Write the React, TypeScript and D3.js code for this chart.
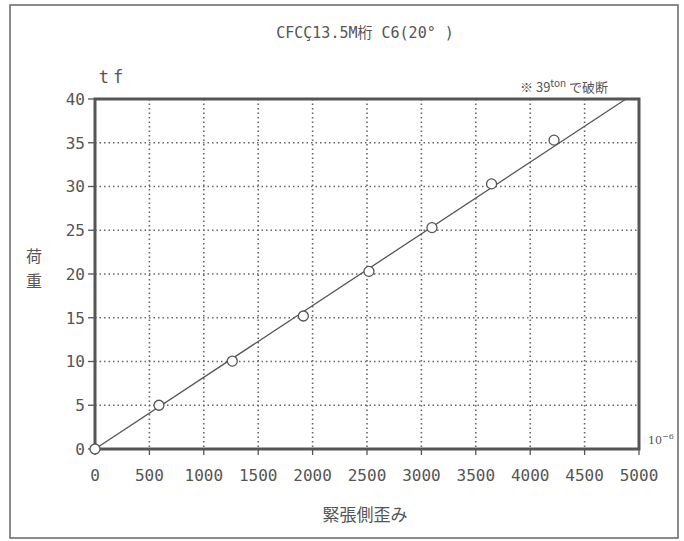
import * as d3 from 'd3';

// measured points (strain x10^-6, load tf)
const strain = [0, 588, 1262, 1915, 2518, 3097, 3645, 4219];
const load = [0, 5.0, 10.05, 15.2, 20.3, 25.3, 30.3, 35.3];

// fitted line end points
const fitStrain = [0, 4880];
const fitLoad = [0, 40];

const xTicks = [0, 500, 1000, 1500, 2000, 2500, 3000, 3500, 4000, 4500, 5000];
const yTicks = [0, 5, 10, 15, 20, 25, 30, 35, 40];

const ink = '#555';
const mono = '"DejaVu Sans Mono", "Liberation Mono", monospace';
const jp = '"Noto Sans CJK JP", sans-serif';

export default function App() {
  const width = 684;
  const height = 541;
  const left = 95;
  const right = 639;
  const top = 99;
  const bottom = 449;

  const x = d3.scaleLinear().domain([0, 5000]).range([left, right]);
  const y = d3.scaleLinear().domain([0, 40]).range([bottom, top]);

  const line = d3
    .line<number>()
    .x((d) => x(d))
    .y((_, i) => y(fitLoad[i]));

  return (
    <svg
      width={width}
      height={height}
      style={{ position: 'absolute', left: 0, top: 0, background: '#fff' }}
    >
      {/* outer frame */}
      <rect x={10} y={5} width={668} height={533} fill="none" stroke="#666" strokeWidth={1.5} />

      <text x={365} y={38} textAnchor="middle" fontFamily={mono} fontSize={15} fill={ink}>
        CFCÇ13.5M<tspan fontFamily={jp}>桁</tspan> C6(20° )
      </text>

      {/* grid */}
      {xTicks.slice(1, -1).map((t) => (
        <line key={'gx' + t} x1={x(t)} x2={x(t)} y1={top} y2={bottom} stroke="#666" strokeWidth={1.6} strokeDasharray="1.5 3" />
      ))}
      {yTicks.slice(1, -1).map((t) => (
        <line key={'gy' + t} x1={left} x2={right} y1={y(t)} y2={y(t)} stroke="#666" strokeWidth={1.6} strokeDasharray="1.5 3" />
      ))}

      {/* ticks */}
      {yTicks.map((t) => (
        <g key={'ty' + t}>
          <line x1={left - 7} x2={left} y1={y(t)} y2={y(t)} stroke={ink} strokeWidth={1.3} />
          <text x={left - 10} y={y(t)} dy="0.36em" textAnchor="end" fontFamily={mono} fontSize={16} fill={ink}>
            {t}
          </text>
        </g>
      ))}
      {xTicks.map((t) => (
        <g key={'tx' + t}>
          <line x1={x(t)} x2={x(t)} y1={bottom} y2={bottom + 6} stroke={ink} strokeWidth={1.3} />
          <text x={x(t)} y={481} textAnchor="middle" fontFamily={mono} fontSize={16} fill={ink}>
            {t}
          </text>
        </g>
      ))}

      {/* plot frame */}
      <rect x={left} y={top} width={right - left} height={bottom - top} fill="none" stroke={ink} strokeWidth={3} />

      {/* fit line */}
      <path d={line(fitStrain) ?? ''} fill="none" stroke={ink} strokeWidth={1.3} />

      {/* points */}
      {strain.map((s, i) => (
        <circle key={'p' + i} cx={x(s)} cy={y(load[i])} r={5} fill="#fff" stroke={ink} strokeWidth={1.3} />
      ))}

      <text x={113} y={83} textAnchor="middle" fontFamily={mono} fontSize={17} fill={ink} letterSpacing={4}>
        tf
      </text>

      <text x={34} y={262} textAnchor="middle" fontFamily={jp} fontSize={16} fill={ink}>荷</text>
      <text x={34} y={287} textAnchor="middle" fontFamily={jp} fontSize={16} fill={ink}>重</text>

      <text x={365} y={521} textAnchor="middle" fontFamily={jp} fontSize={17} fill={ink}>
        緊張側歪み
      </text>

      <text x={648} y={444} fontFamily="'DejaVu Serif', serif" fontSize={11} fill={ink}>
        10<tspan dy={-5} fontSize={8}>−6</tspan>
      </text>

      <text x={520} y={92} fontFamily={jp} fontSize={13} fill={ink}>
        ※ 39<tspan dy={-5} fontSize={10}>ton</tspan><tspan dy={5}> で破断</tspan>
      </text>
    </svg>
  );
}
